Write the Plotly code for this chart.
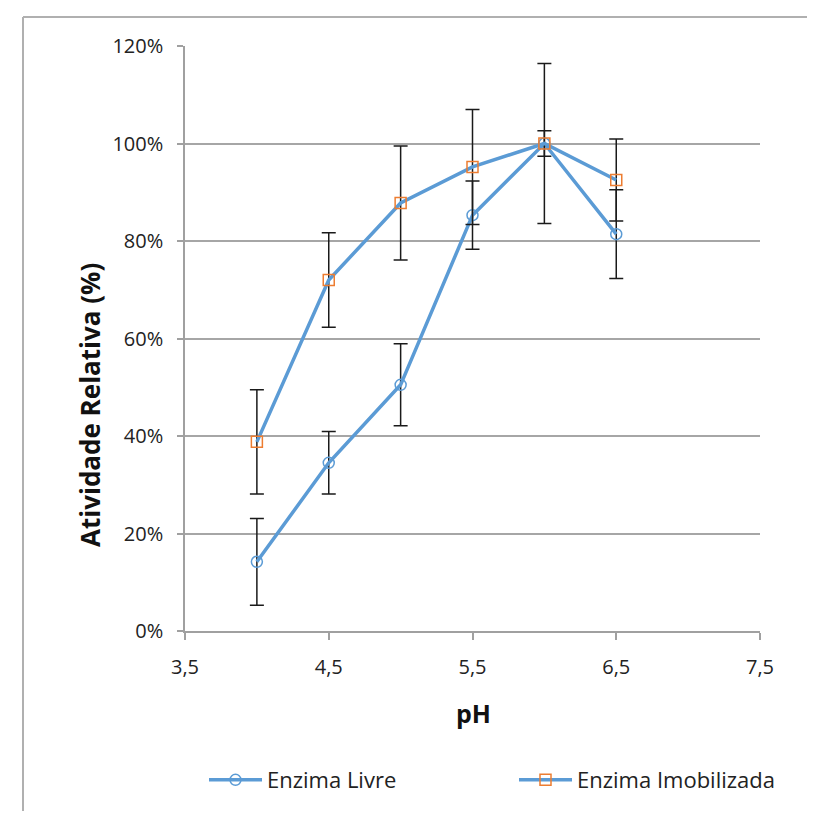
import plotly.graph_objects as go

ph = [4.0, 4.5, 5.0, 5.5, 6.0, 6.5]
livre = [0.142, 0.345, 0.505, 0.853, 1.00, 0.814]
livre_err = [0.089, 0.064, 0.084, 0.070, 0.026, 0.091]
imob = [0.388, 0.720, 0.878, 0.952, 1.00, 0.925]
imob_err = [0.107, 0.097, 0.117, 0.118, 0.164, 0.084]

x_ticks = [3.5, 4.5, 5.5, 6.5, 7.5]
y_ticks = [0, 0.2, 0.4, 0.6, 0.8, 1.0, 1.2]

line_color = "#5B9BD5"
font_family = "Open Sans, Noto Sans, sans-serif"

# page has an 8px body margin; keep the figure small enough to avoid scrollbars
OFF = 8
W, H = 801, 805
L, R, T, B = 185 - OFF, 760 - OFF, 46 - OFF, 631 - OFF


def px(xp):
    return (xp - OFF - L) / (R - L)


def py(yp):
    return (B - (yp - OFF)) / (B - T)


fig = go.Figure()
fig.add_trace(go.Scatter(
    x=ph, y=livre, name="Enzima Livre", mode="lines+markers",
    line=dict(color=line_color, width=3.5),
    marker=dict(symbol="circle-open", size=11, color=line_color, line=dict(width=1.5)),
    error_y=dict(type="data", array=livre_err, visible=True, color="#1a1a1a", thickness=1.5, width=7),
    legend="legend",
))
fig.add_trace(go.Scatter(
    x=ph, y=imob, name="Enzima Imobilizada", mode="lines+markers",
    line=dict(color=line_color, width=3.5),
    marker=dict(symbol="square-open", size=11, color="#ED7D31", line=dict(width=1.5)),
    error_y=dict(type="data", array=imob_err, visible=True, color="#1a1a1a", thickness=1.5, width=7),
    legend="legend2",
))

leg_common = dict(orientation="h", yanchor="middle", xanchor="left", itemwidth=53,
                  font=dict(size=22, color="#222222", family=font_family),
                  bgcolor="rgba(0,0,0,0)")

fig.update_layout(
    width=W, height=H,
    margin=dict(l=L, r=W - R, t=T, b=H - B, autoexpand=False),
    paper_bgcolor="white", plot_bgcolor="white",
    font=dict(family=font_family, size=20, color="#222222"),
    showlegend=True,
    legend=dict(x=px(204), y=py(780), **leg_common),
    legend2=dict(x=px(514), y=py(780), **leg_common),
    xaxis=dict(range=[3.5, 7.5], tickvals=x_ticks, ticktext=[f"{v:.1f}".replace(".", ",") for v in x_ticks],
               showgrid=False, zeroline=False, showline=True, linecolor="#A0A0A0", linewidth=1.5,
               ticks="outside", ticklen=7, tickcolor="#A0A0A0", tickwidth=1.5,
               ticklabelstandoff=10,
               tickfont=dict(size=20, color="#222222"), fixedrange=True),
    yaxis=dict(range=[0, 1.2], tickvals=y_ticks, ticktext=[f"{int(round(v*100))}%" for v in y_ticks],
               showgrid=True, gridcolor="#A6A6A6", gridwidth=1.5, zeroline=False,
               showline=True, linecolor="#A0A0A0", linewidth=1.5,
               ticks="outside", ticklen=6, tickcolor="#A0A0A0", tickwidth=1.5,
               ticklabelstandoff=10,
               tickfont=dict(size=20, color="#222222"), fixedrange=True),
    annotations=[
        dict(text="<b>pH</b>", x=px(473), y=py(713), xref="paper", yref="paper",
             showarrow=False, font=dict(size=25, color="#111111"), xanchor="center", yanchor="middle"),
        dict(text="<b>Atividade Relativa (%)</b>", x=px(90), y=py(405), xref="paper", yref="paper",
             showarrow=False, textangle=-90, font=dict(size=26, color="#111111"),
             xanchor="center", yanchor="middle"),
    ],
    shapes=[
        dict(type="line", xref="paper", yref="paper", x0=px(23), x1=px(W + OFF - 2), y0=py(17), y1=py(17),
             line=dict(color="#B0B0B0", width=2)),
        dict(type="line", xref="paper", yref="paper", x0=px(23), x1=px(23), y0=py(17), y1=py(H + OFF - 2),
             line=dict(color="#B0B0B0", width=2)),
    ],
)

fig.write_html("out.html")
